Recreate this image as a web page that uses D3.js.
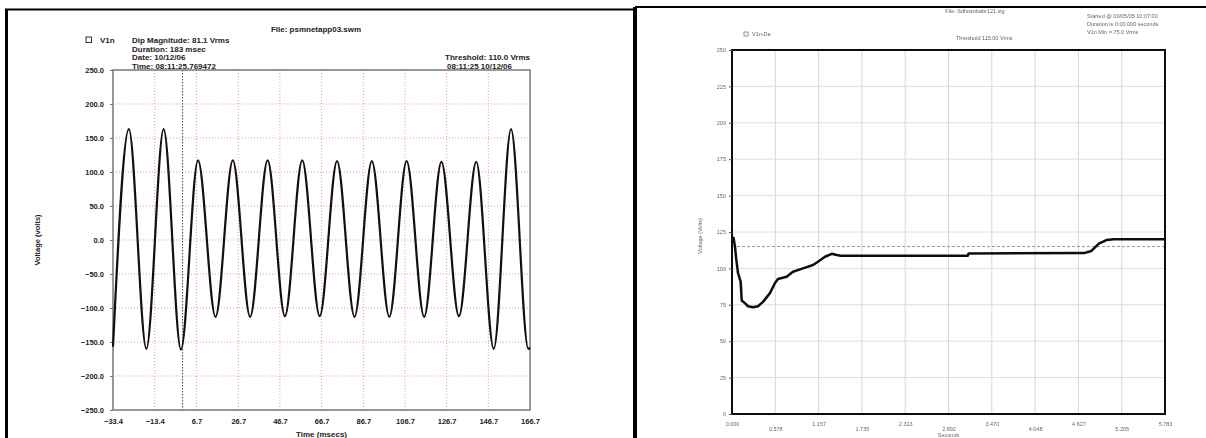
<!DOCTYPE html>
<html>
<head>
<meta charset="utf-8">
<script src="https://cdn.jsdelivr.net/npm/d3@7"></script>
<style>
body { margin: 0; background: #fff; }
svg { display: block; font-family: Arial, "Liberation Sans", sans-serif; }
</style>
</head>
<body>
<div id="viz"></div>
<script>
// ---- left chart: waveform turning points (msec, volts)
const waveT = [-33.4, -25.8, -17.4, -9.1, -0.8, 7.4, 15.8, 24.1, 32.4, 40.8, 49.1, 57.4, 65.8, 74.1, 82.5, 90.8, 99.2, 107.5, 115.9, 124.2, 132.6, 140.9, 149.3, 157.6, 165.9, 166.7];
const waveV = [-157, 163, -160, 163, -161, 117, -113, 117, -113, 117, -112, 117, -112, 116, -113, 116, -113, 116, -113, 115, -112, 115, -160, 163, -160, -158];
const xTicksL = [-33.4, -13.4, 6.7, 26.7, 46.7, 66.7, 86.7, 106.7, 126.7, 146.7, 166.7];
const yTicksL = [250, 200, 150, 100, 50, 0, -50, -100, -150, -200, -250];
const triggerT = 0;
const infoLeft = ["Dip Magnitude: 81.1 Vrms", "Duration: 183 msec", "Date: 10/12/06", "Time: 08:11:25.769472"];

// ---- right chart: rms trend (seconds, volts)
const rmsT = [0.000, 0.020, 0.040, 0.055, 0.080, 0.115, 0.130, 0.175, 0.215, 0.280, 0.347, 0.414, 0.507, 0.574, 0.614, 0.730, 0.814, 0.948, 1.082, 1.148, 1.242, 1.332, 1.399, 1.450, 3.150, 3.160, 4.700, 4.800, 4.900, 5.000, 5.100, 5.783];
const rmsV = [118, 121, 115, 107, 97, 91, 78, 76, 74, 73.3, 74, 77, 83, 90, 92.7, 94.3, 97.7, 100, 102.3, 104.6, 108, 110, 109.2, 108.7, 108.7, 110.3, 110.5, 112, 117, 119.5, 120, 120];
const xTicksR = [0, 0.578, 1.157, 1.735, 2.313, 2.892, 3.470, 4.048, 4.627, 5.205, 5.783];
const xLabelsR = ["0.000", "0.578", "1.157", "1.735", "2.313", "2.892", "3.470", "4.048", "4.627", "5.205", "5.783"];
const yTicksR = [0, 25, 50, 75, 100, 125, 150, 175, 200, 225, 250];
const thresholdR = 115;
const infoRight = ["Started @ 00/05/05 10:07:00", "Duration is 0:00.000 seconds", "V1n Min = 75.0 Vrms"];

const svg = d3.select('#viz').append('svg')
    .attr('width', 1206)
    .attr('height', 438);

// soft look of the scanned right-hand plot
svg.append('defs').append('filter').attr('id', 'soft')
    .append('feGaussianBlur').attr('stdDeviation', 0.35);

// panel frames
svg.append('line').attr('x1', 5).attr('x2', 635).attr('y1', 9.5).attr('y2', 9.5)
    .attr('stroke', '#000').attr('stroke-width', 2);
svg.append('line').attr('x1', 6.5).attr('x2', 6.5).attr('y1', 9).attr('y2', 438)
    .attr('stroke', '#000').attr('stroke-width', 3);
svg.append('line').attr('x1', 635).attr('x2', 635).attr('y1', 7).attr('y2', 438)
    .attr('stroke', '#000').attr('stroke-width', 4);
svg.append('line').attr('x1', 635).attr('x2', 1206).attr('y1', 7).attr('y2', 7)
    .attr('stroke', '#000').attr('stroke-width', 2);

leftChart();
rightChart();

function leftChart() {
    const x = d3.scaleLinear().domain([-33.4, 166.7]).range([113, 530]);
    const y = d3.scaleLinear().domain([-250, 250]).range([410, 70]);
    const g = svg.append('g');

    // grid
    g.selectAll('line.vg').data(xTicksL.slice(1, -1)).enter().append('line')
	.attr('x1', d => x(d)).attr('x2', d => x(d))
	.attr('y1', y(250)).attr('y2', y(-250))
	.attr('stroke', '#e49a9a').attr('stroke-width', 1).attr('stroke-dasharray', '1,2');
    g.selectAll('line.hg').data(yTicksL.slice(1, -1)).enter().append('line')
	.attr('x1', x(-33.4)).attr('x2', x(166.7))
	.attr('y1', d => y(d)).attr('y2', d => y(d))
	.attr('stroke', '#e49a9a').attr('stroke-width', 1).attr('stroke-dasharray', '1,2');

    // trigger marker
    g.append('line')
	.attr('x1', x(triggerT)).attr('x2', x(triggerT))
	.attr('y1', y(250)).attr('y2', y(-250))
	.attr('stroke', '#444').attr('stroke-width', 1).attr('stroke-dasharray', '1.5,1.5');

    g.append('rect')
	.attr('x', x(-33.4)).attr('y', y(250))
	.attr('width', x(166.7) - x(-33.4)).attr('height', y(-250) - y(250))
	.attr('fill', 'none').attr('stroke', '#777').attr('stroke-width', 1.5);

    const ya = g.append('g').attr('transform', `translate(${x(-33.4)},0)`)
	.call(d3.axisLeft(y).tickValues(yTicksL).tickFormat(d3.format('.1f')).tickSize(3).tickPadding(6));
    const xa = g.append('g').attr('transform', `translate(0,${y(-250)})`)
	.call(d3.axisBottom(x).tickValues(xTicksL).tickFormat(d3.format('.1f')).tickSize(0).tickPadding(9));
    [ya, xa].forEach(a => {
	a.select('.domain').remove();
	a.selectAll('line').attr('stroke', '#777');
	a.selectAll('text').attr('font-size', 7.5).attr('font-weight', 'bold').attr('fill', '#222')
	    .attr('font-family', 'Arial, "Liberation Sans", sans-serif');
    });

    const line = d3.line()
	.x((d, i) => x(waveT[i]))
	.y(d => y(d))
	.curve(d3.curveMonotoneX);
    g.append('path').datum(waveV)
	.attr('d', line)
	.attr('fill', 'none').attr('stroke', '#111').attr('stroke-width', 2.2);

    const txt = (s, px, py, anchor) => g.append('text').text(s)
	.attr('x', px).attr('y', py).attr('text-anchor', anchor || 'start')
	.attr('font-size', 8).attr('font-weight', 'bold').attr('fill', '#222');

    txt('File: psmnetapp03.swm', 316, 32, 'middle');
    g.append('rect').attr('x', 86).attr('y', 37).attr('width', 5.5).attr('height', 5.5)
	.attr('fill', 'none').attr('stroke', '#333').attr('stroke-width', 1);
    txt('V1n', 100, 43);
    infoLeft.forEach((s, i) => txt(s, 132, 43 + i * 8.7));
    txt('Threshold: 110.0 Vrms', 530, 60, 'end');
    txt('08:11:25 10/12/06', 447, 69);

    txt('Time (msecs)', (x(-33.4) + x(166.7)) / 2, 437, 'middle');
    g.append('text').text('Voltage (volts)')
	.attr('transform', 'translate(40,240) rotate(-90)')
	.attr('text-anchor', 'middle')
	.attr('font-size', 7.5).attr('font-weight', 'bold').attr('fill', '#222');
}

function rightChart() {
    const x = d3.scaleLinear().domain([0, 5.783]).range([732, 1165]);
    const y = d3.scaleLinear().domain([0, 250]).range([414, 50]);
    const g = svg.append('g').attr('filter', 'url(#soft)');

    g.selectAll('line.vg').data(xTicksR.slice(1, -1)).enter().append('line')
	.attr('x1', d => x(d)).attr('x2', d => x(d))
	.attr('y1', y(250)).attr('y2', y(0))
	.attr('stroke', '#d6d6d6').attr('stroke-width', 1);
    g.selectAll('line.hg').data(yTicksR.slice(1, -1)).enter().append('line')
	.attr('x1', x(0)).attr('x2', x(5.783))
	.attr('y1', d => y(d)).attr('y2', d => y(d))
	.attr('stroke', '#e2dcdc').attr('stroke-width', 1);
    g.append('line')
	.attr('x1', x(0)).attr('x2', x(5.783))
	.attr('y1', y(thresholdR)).attr('y2', y(thresholdR))
	.attr('stroke', '#999').attr('stroke-width', 1).attr('stroke-dasharray', '3,2');

    g.append('rect')
	.attr('x', x(0)).attr('y', y(250))
	.attr('width', x(5.783) - x(0)).attr('height', y(0) - y(250))
	.attr('fill', 'none').attr('stroke', '#111').attr('stroke-width', 2);

    const ya = g.append('g').attr('transform', `translate(${x(0)},0)`)
	.call(d3.axisLeft(y).tickValues(yTicksR).tickSize(3).tickPadding(3));
    const xa = g.append('g').attr('transform', `translate(0,${y(0)})`)
	.call(d3.axisBottom(x).tickValues(xTicksR).tickFormat((d, i) => xLabelsR[i]).tickSize(0).tickPadding(7));
    [ya, xa].forEach(a => {
	a.select('.domain').remove();
	a.selectAll('line').attr('stroke', '#555');
	a.selectAll('text').attr('font-size', 5.5).attr('fill', '#666')
	    .attr('font-family', 'Arial, "Liberation Sans", sans-serif');
    });
    // staggered bottom labels
    xa.selectAll('.tick text').attr('dy', (d, i) => i % 2 ? '1.9em' : '0.9em');

    const line = d3.line()
	.x((d, i) => x(rmsT[i]))
	.y(d => y(d));
    g.append('path').datum(rmsV)
	.attr('d', line)
	.attr('fill', 'none').attr('stroke', '#111').attr('stroke-width', 2.5)
	.attr('stroke-linejoin', 'round');

    const txt = (s, px, py, anchor) => g.append('text').text(s)
	.attr('x', px).attr('y', py).attr('text-anchor', anchor || 'start')
	.attr('font-size', 5.5).attr('fill', '#666');

    txt('File: Sdhosnbabr121.sig', 975, 13, 'middle');
    g.append('rect').attr('x', 744).attr('y', 32).attr('width', 4).attr('height', 4)
	.attr('fill', 'none').attr('stroke', '#777').attr('stroke-width', 0.8);
    txt('V1n-Da', 752, 36);
    txt('Threshold 115.00 Vrms', 956, 40);
    infoRight.forEach((s, i) => txt(s, 1087, 18 + i * 8));
    txt('Seconds', (x(0) + x(5.783)) / 2, 437, 'middle');
    g.append('text').text('Voltage (Volts)')
	.attr('transform', 'translate(702,236) rotate(-90)')
	.attr('text-anchor', 'middle')
	.attr('font-size', 5.5).attr('fill', '#666');
}
</script>
</body>
</html>
